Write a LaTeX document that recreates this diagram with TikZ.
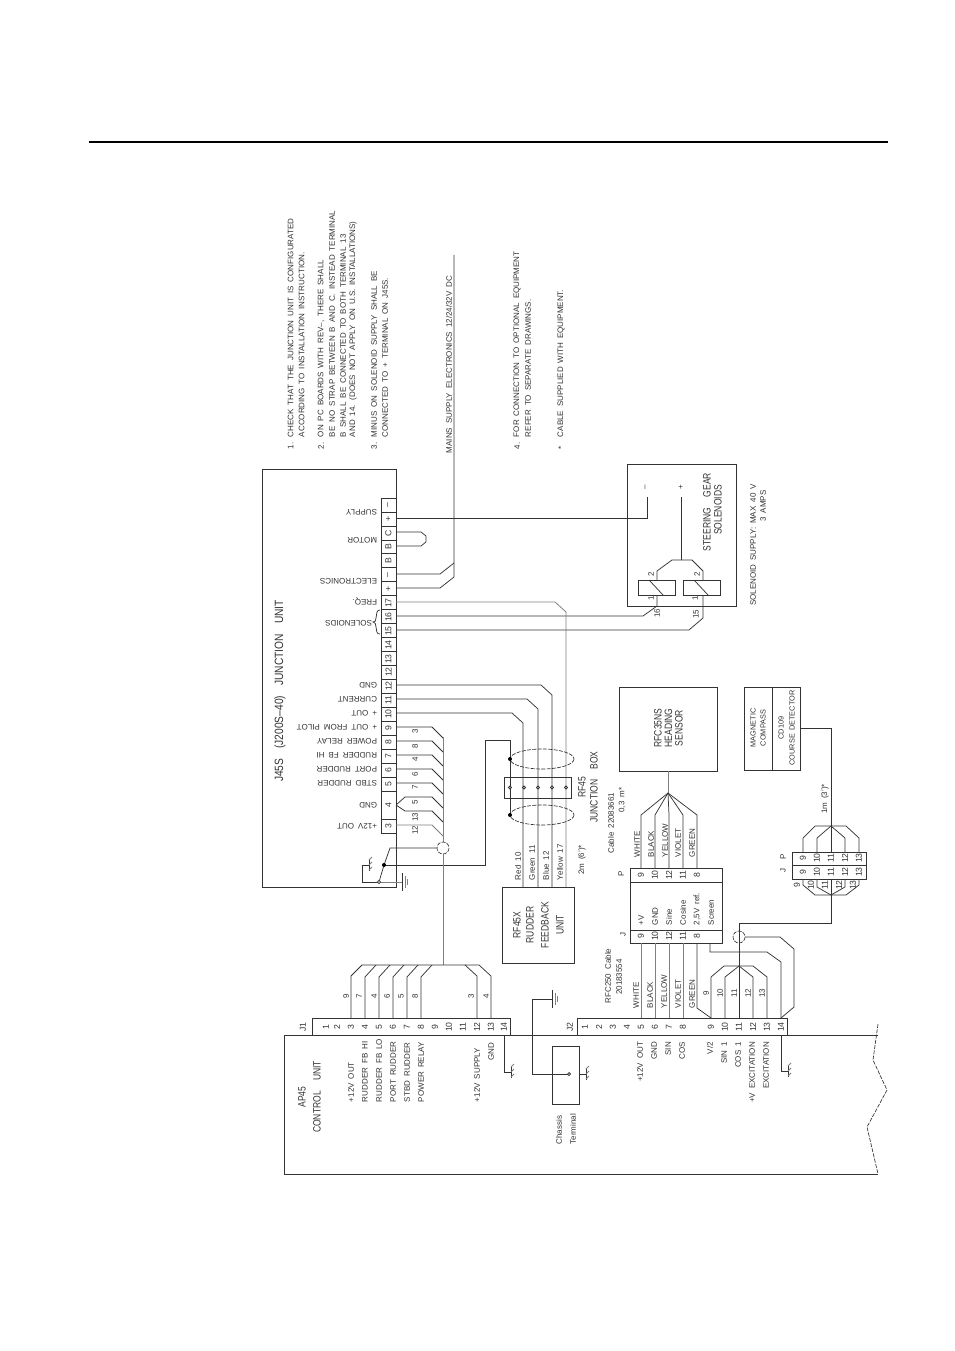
\documentclass[tikz,border=0pt]{standalone}
\usepackage{fontspec}
\setmainfont{Liberation Sans}
\newcounter{lc}
\newcommand\fs{\fontsize{6}{7}\selectfont\spaceskip=.5em\relax}
\newcommand\fn{\fontsize{6.5}{7}\selectfont}
\newcommand\fc{\fontsize{5.5}{7}\selectfont\spaceskip=.45em\relax}
\newcommand\ft{\fontsize{8}{9}\selectfont\spaceskip=1.2em\relax}
\newcommand\fh{\fontsize{9}{10}\selectfont\spaceskip=1em\relax}
\definecolor{ink}{gray}{.2}
\definecolor{pale}{gray}{.5}
\tikzset{
 lab/.style={inner sep=0pt,outer sep=0pt,text=ink,font=\fs},
 rv/.style={lab,rotate=90},
 num/.style={lab,rotate=90,font=\fn},
 cmp/.style={lab,rotate=90,font=\fc},
 rvs/.style={lab,rotate=90,anchor=west},
 rve/.style={lab,rotate=90,anchor=east},
 rh/.style={lab,rotate=180,anchor=west},
 tall/.style={lab,rotate=90,font=\ft,xscale=.8},
 head/.style={lab,rotate=90,font=\fh,xscale=.85},
 wire/.style={draw=ink,line width=.55pt},
 gw/.style={draw=pale,line width=.6pt},
 dsh/.style={draw=ink,line width=.5pt,dash pattern=on 3pt off 1pt},
 boxn/.style={wire,inner sep=0pt,outer sep=0pt,fill=none},
}
\newcommand\T[4]{\stepcounter{lc}\node[#1] (t\thelc) at (#2,#3) {#4};}
\newcommand\BX[5]{\node[boxn,minimum width={(#4-#2)*.75pt},minimum height={(#5-#3)*.75pt}] (#1) at ({(#2+#4)/2},{(#3+#5)/2}) {};}
% chassis symbol: stem from (x,y) to the right
\newcommand\CHS[2]{\draw[wire] (#1,#2) -- ++(7,0) ++(0,-6) -- ++(0,12);
 \draw[gw] (#1+7,#2-5) -- ++(3,-3) (#1+7,#2) -- ++(3,-3) (#1+7,#2+5) -- ++(3,-3);}
% earth symbol: bars at x
\newcommand\EA[2]{\draw[wire] (#1,#2-9) -- ++(0,18); \draw[gw] (#1+3,#2-6) -- ++(0,12) (#1+5,#2-3) -- ++(0,6);}
\begin{document}
\begin{tikzpicture}[x=.75pt,y=-.75pt]
\useasboundingbox[fill=white] (0,0) rectangle (954,1351);
\draw[line width=1.5pt,draw=black] (89,142) -- (888,142);
% ---- notes
\T{rvs}{290.5}{449}{1.}
\T{rvs}{290.5}{437}{CHECK THAT THE JUNCTION UNIT IS CONFIGURATED}
\T{rvs}{301.5}{437}{ACCORDING TO INSTALLATION INSTRUCTION.}
\T{rvs}{321}{449}{2.}
\T{rvs}{321}{437}{ON PC BOARDS WITH REV--, THERE SHALL}
\T{rvs}{332}{437}{BE NO STRAP BETWEEN B AND C. INSTEAD TERMINAL}
\T{rvs}{343}{437}{B SHALL BE CONNECTED TO BOTH TERMINAL 13}
\T{rvs}{353}{437}{AND 14. (DOES NOT APPLY ON U.S. INSTALLATIONS)}
\T{rvs}{374}{449}{3.}
\T{rvs}{374}{437}{MINUS ON SOLENOID SUPPLY SHALL BE}
\T{rvs}{385}{437}{CONNECTED TO + TERMINAL ON J45S.}
\T{rvs}{449}{453}{MAINS SUPPLY ELECTRONICS 12/24/32V DC}
\T{rvs}{517}{449}{4.}
\T{rvs}{517}{437}{FOR CONNECTION TO OPTIONAL EQUIPMENT}
\T{rvs}{528}{437}{REFER TO SEPARATE DRAWINGS.}
\T{rvs}{561}{449}{*}
\T{rvs}{561}{437}{CABLE SUPPLIED WITH EQUIPMENT.}
% ---- J45S
\BX{j45}{262}{469}{396}{887}
\T{head}{280}{691}{J45S (J200S--40) JUNCTION UNIT}
\BX{strip}{381}{498}{396}{833}
\foreach \i in {1,...,21,23} {\draw[wire] (381,{498+13.96*\i}) -- (396,{498+13.96*\i});}
\foreach \n/\y in {--/505,+/519,C/533,B/547,B/561,--/575,+/589,17/603,16/617,15/631,14/645,13/659,12/672,12/686,11/700,10/714,9/728,8/742,7/756,6/770,5/784,4/805,3/826}
  {\T{num}{388.5}{\y}{\n}}
\T{rh}{377}{512}{SUPPLY}
\T{rh}{377}{540}{MOTOR}
\T{rh}{377}{581}{ELECTRONICS}
\T{rh}{377}{602}{FREQ.}
\T{rh}{372}{623}{SOLENOIDS}
\T{rh}{377}{685}{GND}
\T{rh}{377}{699}{CURRENT}
\T{rh}{377}{713}{+ OUT}
\T{rh}{377}{727}{+ OUT FROM PILOT}
\T{rh}{377}{741}{POWER RELAY}
\T{rh}{377}{755}{RUDDER FB HI}
\T{rh}{377}{769}{PORT RUDDER}
\T{rh}{377}{783}{STBD RUDDER}
\T{rh}{377}{805}{GND}
\T{rh}{377}{826}{+12V OUT}
\draw[wire] (380,610) .. controls (376,610) and (377,614) .. (376,618) .. controls (376,621) and (375,622) .. (373,622) .. controls (375,622) and (376,624) .. (376,627) .. controls (377,631) and (376,634) .. (380,634);
% motor link
\draw[wire] (396,532) -- (421,532) -- (426,536) -- (426,542) -- (421,546) -- (396,546);
% mains
\draw[wire] (454,255) -- (454,577) -- (440,588) -- (396,588);
\draw[wire] (454,563) -- (440,574) -- (396,574);
% supply to solenoids
\BX{steer}{627}{464}{736}{606}
\T{rv}{646}{487}{--}
\T{rv}{681}{487}{+}
\draw[wire] (396,518) -- (647,518) -- (647,497);
\draw[wire] (681,497) -- (681,560);
\draw[wire] (657,580) -- (657,571) -- (672,560) -- (692,560) -- (703,571) -- (703,580);
\BX{coila}{638}{580}{675}{595}
\BX{coilb}{683}{580}{720}{595}
\draw[wire] (649,580) -- (663,595) (694,580) -- (708,595);
\draw[wire] (396,616) -- (643,616) -- (657,606) -- (657,595);
\draw[wire] (396,630) -- (689,630) -- (703,618) -- (703,595);
\T{rv}{651}{574}{2}
\T{rv}{697}{574}{2}
\T{rv}{651}{598}{1}
\T{rv}{695}{598}{1}
\T{rv}{657}{613}{16}
\T{rv}{696}{614}{15}
\T{tall}{707}{512}{STEERING GEAR}
\T{tall}{718}{510}{SOLENOIDS}
\T{rv}{753}{545}{SOLENOID SUPPLY: MAX 40 V}
\T{rv}{763}{506}{3 AMPS}
% RF45X wires
\draw[gw] (396,602) -- (555,602) -- (566,612) -- (566,887);
\draw[wire] (396,685) -- (541,685) -- (552,695) -- (552,887);
\draw[wire] (396,699) -- (527,699) -- (538,709) -- (538,887);
\draw[wire] (396,713) -- (512,713) -- (523,723) -- (523,887);
\draw[wire] (384,865) -- (485,865) -- (485,740) -- (510,740) -- (510,815);
\BX{rf45}{504}{777}{571}{798}
\foreach \x in {510,524,538,552,566} {\draw[wire,fill=white] (\x,787.5) circle (1.5);}
\draw[dsh] (542,759) ellipse (32 and 10);
\draw[dsh] (542,815) ellipse (32 and 10);
\fill[black] (510,759) circle (2) (510,815) circle (2);
\T{tall}{582}{787}{RF45}
\T{tall}{594}{787}{JUNCTION BOX}
\T{rvs}{518}{880}{Red 10}
\T{rvs}{532}{880}{Green 11}
\T{rvs}{546}{880}{Blue 12}
\T{rvs}{560}{880}{Yellow 17}
\T{rv}{582}{860}{2m (6')*}
\BX{rudder}{502}{887}{574}{963}
\T{tall}{517}{925}{RF45X}
\T{tall}{530}{925}{RUDDER}
\T{tall}{545}{925}{FEEDBACK}
\T{tall}{560}{925}{UNIT}
% bus to J1
\foreach \y in {727,741,755,769,783} {\draw[wire] (396,\y) -- (432,\y) -- (443,\y+11);}
\draw[wire] (396,805) -- (405,797) -- (432,797) -- (443,808);
\draw[wire] (396,805) -- (405,811) -- (432,811) -- (443,822);
\draw[gw] (396,825) -- (432,825) -- (443,836);
\draw[gw] (443,737) -- (443,965);
\foreach \n/\y in {3/731,8/746,4/759,6/774,7/787,5/802,13/817,12/830} {\T{rv}{415}{\y}{\n}}
\draw[dsh,fill=white] (443,848) circle (6);
\draw[wire] (437,848) -- (390,848) -- (384,865) -- (379,882);
\fill[black] (384,865) circle (2);
\draw[gw] (379,882) -- (402,882);
\draw[wire] (379,882) -- (362,882) -- (362,865);
\CHS{362}{865}
\draw[wire,fill=white] (379,882) circle (1.6);
\EA{402}{882}
% AP45
\draw[wire] (878,1035) -- (284,1035) -- (284,1174) -- (878,1174);
\draw[dsh] (878,1024) -- (873,1060) -- (887,1090) -- (867,1127) -- (878,1174);
\T{tall}{302}{1097}{AP45}
\T{tall}{317}{1097}{CONTROL UNIT}
% J1
\BX{jone}{312}{1018}{510}{1035}
\T{num}{303}{1027}{J1}
\foreach \n/\x in {1/326,2/337,3/351,4/365,5/379,6/393,7/407,8/421,9/435,10/449,11/463,12/477,13/491,14/504} {\T{num}{\x}{1027}{\n}}
\draw[wire] (351,1018) -- (351,976) -- (362,965) -- (479,965) -- (491,976) -- (491,1018);
\draw[wire] (477,1018) -- (477,976) -- (465,965);
\foreach \x in {365,379,393,407,421} {\draw[wire] (\x,1018) -- (\x,977) -- (\x+11,965);}
\foreach \n/\x in {9/346,7/359,4/374,6/387,5/401,8/415,3/471,4/486} {\T{rv}{\x}{996}{\n}}
\T{rvs}{351}{1102}{+12V OUT}
\T{rvs}{365}{1102}{RUDDER FB HI}
\T{rvs}{379}{1102}{RUDDER FB LO}
\T{rvs}{393}{1102}{PORT RUDDER}
\T{rvs}{407}{1102}{STBD RUDDER}
\T{rvs}{421}{1102}{POWER RELAY}
\T{rvs}{477}{1102}{+12V SUPPLY}
\T{rve}{491}{1043}{GND}
\draw[wire] (504,1035) -- (504,1072);
\CHS{504}{1072}
% J2
\BX{jtwo}{577}{1018}{787}{1035}
\T{num}{570}{1027}{J2}
\foreach \n/\x in {1/585,2/599,3/613,4/627,5/641,6/655,7/669,8/683,9/711,10/725,11/739,12/753,13/767,14/781} {\T{num}{\x}{1027}{\n}}
\T{rve}{640}{1042}{+12V OUT}
\T{rve}{654}{1042}{GND}
\T{rve}{668}{1042}{SIN}
\T{rve}{682}{1042}{COS}
\T{rve}{710}{1042}{V/2}
\T{rve}{724}{1042}{SIN 1}
\T{rve}{738}{1042}{COS 1}
\T{rve}{752}{1042}{+V EXCITATION}
\T{rve}{766}{1042}{EXCITATION}
\draw[wire] (781,1035) -- (781,1071);
\CHS{781}{1071}
% chassis terminal
\BX{chassis}{552}{1046}{579}{1104}
\draw[wire] (567.5,1074) -- (532,1074) -- (532,999) -- (552,999);
\draw[wire,fill=white] (569,1074) circle (1.5);
\EA{552}{999}
\CHS{579}{1074}
\T{rv}{559}{1130}{Chassis}
\T{rv}{573}{1129}{Terminal}
% J / P box
\BX{jpbox}{630}{868}{722}{943}
\draw[wire] (630,882) -- (722,882) (630,930) -- (722,930);
\foreach \n/\x in {9/641,10/655,12/669,11/683,8/697} {\T{num}{\x}{875}{\n}\T{num}{\x}{936}{\n}}
\T{rv}{621}{874}{P}
\T{rv}{623}{934}{J}
\T{rvs}{641}{925}{+V}
\T{rvs}{655}{925}{GND}
\T{rvs}{669}{925}{Sine}
\T{rvs}{683}{925}{Cosine}
\T{rvs}{697}{925}{2,5V ref.}
\T{rvs}{711}{925}{Screen}
\foreach \x in {641,655,669,683} {\draw[gw] (\x,943) -- (\x,1018);}
\draw[wire] (697,943) -- (697,1008) -- (711,1018);
\draw[wire] (710,943) -- (710,952) -- (767,952) -- (781,962) -- (781,1018);
\draw[wire] (711,1018) -- (711,977) -- (724,966) -- (753,966) -- (767,977) -- (767,1018);
\draw[wire] (725,1018) -- (725,977) -- (739,966) -- (753,977) -- (753,1018);
\draw[wire] (739,1018) -- (739,923) -- (831,923) -- (831,879);
\draw[dsh,fill=white] (739,937) circle (6);
\draw[wire] (739,923) -- (739,943);
\draw[wire] (745,937) -- (780,937) -- (794,949) -- (794,1007) -- (781,1018);
\T{rv}{608}{976}{RFC250 Cable}
\T{rv}{619}{977}{20183554}
\foreach \n/\x in {WHITE/636,BLACK/650,YELLOW/664,VIOLET/678,GREEN/692} {\T{rvs}{\x}{1008}{\n}}
\foreach \n/\x in {9/706,10/720,11/734,12/748,13/762} {\T{rv}{\x}{993}{\n}}
% RFC35NS
\BX{rfc}{619}{687}{717}{771}
\T{tall}{658}{728}{RFC35NS}
\T{tall}{668.5}{728}{HEADING}
\T{tall}{679}{728}{SENSOR}
\draw[gw] (668,771) -- (668,793);
\foreach \x in {641,655,669,683,697} {\draw[wire] (668,793) -- (\x,815) -- (\x,868);}
\foreach \n/\x in {WHITE/637,BLACK/651,YELLOW/665,VIOLET/678,GREEN/692} {\T{rvs}{\x}{857}{\n}}
\T{rv}{611}{823}{Cable 22083661}
\T{rv}{622}{800}{0,3 m*}
% compass
\BX{compass}{744}{687}{800}{770}
\draw[wire] (772,687) -- (772,770);
\T{cmp}{753}{728}{MAGNETIC}
\T{cmp}{763}{728}{COMPASS}
\T{cmp}{781}{728}{CD109}
\T{cmp}{792}{728}{COURSE DETECTOR}
\draw[wire] (800,728) -- (831,728) -- (831,852);
\T{rv}{825}{799}{1m (3')*}
% JP connector
\BX{jp}{792}{852}{866}{879}
\draw[wire] (792,865) -- (866,865);
\foreach \n/\x in {9/803,10/817,11/831,12/845,13/859} {\T{num}{\x}{858}{\n}\T{num}{\x}{872}{\n}}
\T{rv}{783}{857}{P}
\T{rv}{783}{870}{J}
\draw[wire] (803,852) -- (803,838) -- (815,826) -- (846,826) -- (859,838) -- (859,852);
\draw[wire] (817,852) -- (817,838) -- (831,826) -- (845,838) -- (845,852);
\draw[wire] (803,879) -- (803,885) -- (815,895) -- (846,895) -- (859,885) -- (859,879);
\draw[wire] (817,879) -- (817,887) -- (831,895) -- (845,887) -- (845,879);
\foreach \n/\x in {9/797,10/811,11/825,12/839,13/853} {\T{num}{\x}{885}{\n}}
\end{tikzpicture}
\end{document}
